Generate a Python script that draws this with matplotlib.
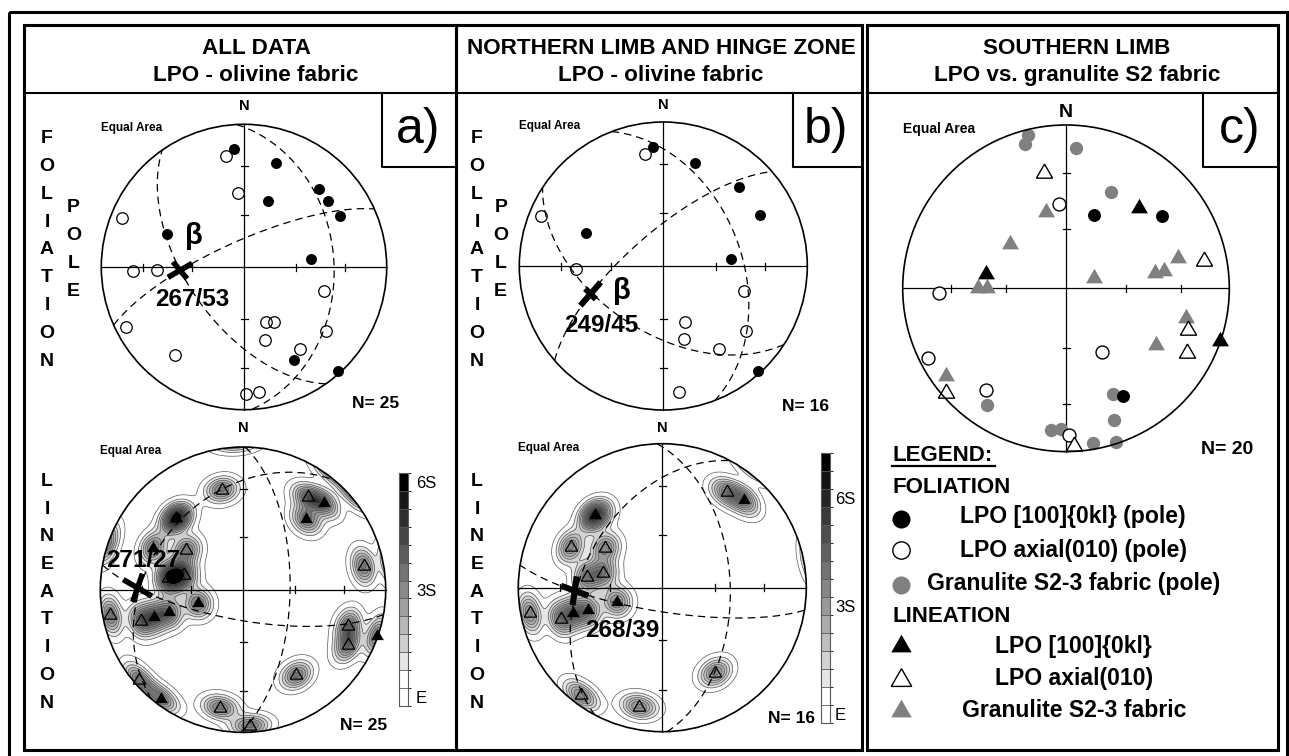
import numpy as np
import matplotlib
matplotlib.use("Agg")
import matplotlib.pyplot as plt
import matplotlib.cm as cm
from matplotlib.patches import Circle, Rectangle
from matplotlib.colors import ListedColormap, BoundaryNorm

plt.rcParams['font.family'] = ['Liberation Sans', 'DejaVu Sans']

# Lines are (trend, plunge), planes are (dip direction, dip), degrees.
# a) all data
a_fol_lpo = [(355, 18), (17, 25), (44, 25), (52, 26), (20, 49), (62, 25), (293, 41),
             (83, 51), (152, 27), (138, 2)]
a_fol_axial = [(351, 22), (355, 47), (292, 9), (268, 23), (268, 39), (107, 41), (243, 8),
               (158, 56), (151, 54), (164, 46), (128, 28), (218, 23), (146, 31), (179, 12),
               (173, 13)]
a_fol_planes = [(87, 37), (336, 75), (235, 57.5)]
a_fol_beta = (267, 53)

a_lin_lpo = [(317, 32), (317, 32), (43, 18), (42, 34), (295, 31), (281, 49), (253, 63),
             (253, 45), (253, 35), (217, 5), (109, 1)]
a_lin_axial = [(348, 29), (35, 22), (305, 50), (284, 55), (279, 46), (79, 15), (259, 6),
               (253, 26), (109, 23), (118, 18), (148, 30), (229, 4), (191, 17), (177, 5)]
a_lin_planes = [(91, 63), (190, 72.5), (310, 35)]
a_lin_beta = (271, 27)

# b) northern limb and hinge zone
b_fol_lpo = [(355, 18), (17, 26), (44, 25), (62, 25), (293, 41), (84, 51), (138, 2)]
b_fol_axial = [(351, 22), (292, 9), (268, 39), (107, 41), (159, 56), (164, 46), (128, 28),
               (146, 31), (173, 13)]
b_fol_planes = [(69, 45), (319, 71), (213, 52)]
b_fol_beta = (249, 45)

b_lin_lpo = [(317, 32), (317, 32), (43, 18), (253, 63), (253, 45), (254, 36)]
b_lin_axial = [(34, 21), (294, 31), (305, 50), (284, 55), (278, 46), (259, 7), (253, 27),
               (148, 31), (217, 7), (191, 17)]
b_lin_planes = [(88, 51), (189, 76.5), (298, 44)]
b_lin_beta = (268, 39)

# c) southern limb
c_fol_lpo = [(21, 50), (53, 27), (152, 26)]
c_fol_axial = [(355, 47), (268, 23), (243, 6), (218, 22), (151, 53), (179, 11)]
c_fol_gran = [(346, 4), (344, 9), (4, 15), (25, 35), (214, 15), (156, 30), (160, 15),
              (186, 14), (182, 15), (170, 4), (162, 1)]
c_lin_lpo = [(42, 34), (280, 49), (109, 0)]
c_lin_axial = [(349, 29), (79, 15), (109, 22), (118, 17), (229, 3), (177, 4)]
c_lin_gran = [(345, 50), (308, 54), (270, 45), (270, 50), (70, 75), (80, 44), (80, 39),
              (75, 30), (104, 25), (122, 35), (234, 10)]

headers = [("ALL DATA", "LPO - olivine fabric"),
           ("NORTHERN LIMB AND HINGE ZONE", "LPO - olivine fabric"),
           ("SOUTHERN LIMB", "LPO vs. granulite S2 fabric")]
panel_letters = ["a)", "b)", "c)"]
legend_items = [("FOLIATION", None),
                ("LPO [100]{0kl} (pole)", 'fol_lpo'),
                ("LPO axial(010) (pole)", 'fol_axial'),
                ("Granulite S2-3 fabric (pole)", 'fol_gran'),
                ("LINEATION", None),
                ("LPO [100]{0kl}", 'lin_lpo'),
                ("LPO axial(010)", 'lin_axial'),
                ("Granulite S2-3 fabric", 'lin_gran')]

W, H = 1289, 756
fig = plt.figure(figsize=(W / 100.0, H / 100.0), dpi=100)
bg = fig.add_axes([0, 0, 1, 1])
bg.set_xlim(0, W)
bg.set_ylim(H, 0)
bg.axis('off')


def project(trend, plunge):
    t = np.radians(np.asarray(trend, float))
    p = np.radians(np.asarray(plunge, float))
    r = np.sqrt(2.0) * np.sin((np.pi / 2 - p) / 2)
    return r * np.sin(t), r * np.cos(t)


def vectors(trend, plunge):
    t = np.radians(np.asarray(trend, float))
    p = np.radians(np.asarray(plunge, float))
    return np.stack([np.cos(p) * np.cos(t), np.cos(p) * np.sin(t), np.sin(p)])


def great_circle(dipdir, dip):
    dd, dp = np.radians(dipdir), np.radians(dip)
    strike = np.array([np.cos(dd - np.pi / 2), np.sin(dd - np.pi / 2), 0.0])
    down = np.array([np.cos(dp) * np.cos(dd), np.cos(dp) * np.sin(dd), np.sin(dp)])
    phi = np.linspace(0, np.pi, 181)
    v = np.outer(np.cos(phi), strike) + np.outer(np.sin(phi), down)
    plunge = np.degrees(np.arcsin(np.clip(v[:, 2], -1, 1)))
    trend = np.degrees(np.arctan2(v[:, 1], v[:, 0]))
    return project(trend, plunge)


def density(points, k=120.0, c=3.4, n=401):
    # smoothed (exponential kernel) counts on the sphere, axial data
    g = np.linspace(-1.0, 1.0, n)
    X, Y = np.meshgrid(g, g)
    r = np.clip(np.hypot(X, Y), 0, 1)
    plunge = 90 - np.degrees(2 * np.arcsin(r / np.sqrt(2)))
    trend = np.degrees(np.arctan2(X, Y))
    grid = vectors(trend, plunge)
    tr, pl = zip(*points)
    pts = vectors(tr, pl)
    dots = np.abs(np.einsum('im,ijk->mjk', pts, grid))
    return X, Y, c * np.exp(k * (dots - 1)).sum(axis=0)


STYLES = {
    'fol_lpo': dict(marker='o', ms=7.9, mfc='black', mec='black', mew=0),
    'fol_axial': dict(marker='o', ms=8.3, mfc='none', mec='black', mew=0.9),
    'lin_lpo': dict(marker=(3, 0, 0), ms=10.5, mfc='black', mec='black', mew=0),
    'lin_axial': dict(marker=(3, 0, 0), ms=10.5, mfc='none', mec='black', mew=0.9),
}
C_STYLES = {
    'fol_lpo': dict(marker='o', ms=9.3, mfc='black', mec='black', mew=0),
    'fol_axial': dict(marker='o', ms=9.3, mfc='white', mec='black', mew=1.0),
    'fol_gran': dict(marker='o', ms=9.6, mfc='0.5', mec='0.5', mew=0),
    'lin_lpo': dict(marker=(3, 0, 0), ms=14, mfc='black', mec='black', mew=0),
    'lin_axial': dict(marker=(3, 0, 0), ms=13.5, mfc='white', mec='black', mew=1.0),
    'lin_gran': dict(marker=(3, 0, 0), ms=14, mfc='0.5', mec='0.5', mew=0),
}


def stereonet(cx, cy, R, sets, planes=(), beta=None, bars=(), bar_lw=4.0,
              contour_pts=None, top=6):
    pad = 1.12
    ax = fig.add_axes([(cx - R * pad) / W, (H - cy - R * pad) / H,
                       2 * R * pad / W, 2 * R * pad / H])
    ax.set_xlim(-pad, pad)
    ax.set_ylim(-pad, pad)
    ax.axis('off')
    rim = Circle((0, 0), 1, fill=False, lw=1.2, ec='black', zorder=6)
    ax.add_patch(rim)
    result = None
    if contour_pts is not None:
        X, Y, D = density(contour_pts)
        bounds = np.arange(-0.25, top + 0.26, 0.5)
        nseg = len(bounds) - 1
        greys = [1.0, 1.0] + list(np.linspace(0.9, 0.0, nseg - 2))
        colors = [(g, g, g) for g in greys]
        cf = ax.contourf(X, Y, D, levels=list(bounds[:-1]) + [1e6], colors=colors, zorder=1)
        cl = ax.contour(X, Y, D, levels=bounds[1:-1], colors='0.35', linewidths=0.5, zorder=1.5)
        cf.set_clip_path(rim)
        cl.set_clip_path(rim)
        result = (bounds, colors)
    ax.plot([-1, 1], [0, 0], color='black', lw=0.9, zorder=3)
    ax.plot([0, 0], [-1, 1], color='black', lw=0.9, zorder=3)
    tick = 3.5 / R
    for pl in (30, 60):
        rr = project(0, pl)[1]
        for s in (-1, 1):
            ax.plot([s * rr, s * rr], [-tick, tick], color='black', lw=0.9, zorder=3)
            ax.plot([-tick, tick], [s * rr, s * rr], color='black', lw=0.9, zorder=3)
    for dd, dip in planes:
        x, y = great_circle(dd, dip)
        ax.plot(x, y, color='black', lw=0.9, ls=(0, (6, 4)), zorder=3)
    for pts, style in sets:
        tr, pl = zip(*pts)
        x, y = project(tr, pl)
        ax.plot(x, y, ls='none', clip_on=False, zorder=4, **style)
    if beta is not None:
        bx, by = project(*beta)
        for ang, length in bars:
            h = length / 2.0 / R
            dx, dy = h * np.cos(np.radians(ang)), h * np.sin(np.radians(ang))
            ax.plot([bx - dx, bx + dx], [by - dy, by + dy], color='black', lw=bar_lw,
                    solid_capstyle='butt', zorder=5)
    return ax, result


def beta_label(ax, beta, text, offset, size=17.5, va='baseline'):
    bx, by = project(*beta)
    ax.annotate(text, xy=(bx, by), xytext=offset, textcoords='offset pixels',
                ha='center', va=va, fontsize=size, weight='bold', zorder=7,
                annotation_clip=False)


def colorbar(x0, y0, x1, y1, bounds, colors, pad):
    cax = fig.add_axes([x0 / W, (H - y1) / H, (x1 - x0) / W, (y1 - y0) / H])
    cmap = ListedColormap(colors)
    norm = BoundaryNorm(bounds, cmap.N)
    cb = fig.colorbar(cm.ScalarMappable(norm=norm, cmap=cmap), cax=cax,
                      drawedges=True, ticks=[0, 3, 6])
    cb.ax.set_yticklabels(['E', '3S', '6S'], fontsize=12)
    cb.ax.tick_params(length=0, pad=pad)
    cb.outline.set_edgecolor('0.35')
    cb.outline.set_linewidth(0.8)
    cb.dividers.set_color('0.35')
    cb.dividers.set_linewidth(0.6)


# ---- frames
bg.add_patch(Rectangle((8.5, 12), 1278.5, 760, fill=False, lw=2.2, ec='black'))
panels = [(23.5, 455.5), (455.5, 862), (867, 1277.5)]
header_x = [256, 661, 1077]
box_left = [382, 793, 1203]
letter_x = [418, 826, 1240]
for (x0, x1), (h1, h2), hx, bl, lx, lt in zip(panels, headers, header_x, box_left,
                                               letter_x, panel_letters):
    bg.add_patch(Rectangle((x0, 25), x1 - x0, 724.5, fill=False, lw=2.2, ec='black'))
    bg.plot([x0, x1], [93, 93], color='black', lw=1.5)
    bg.plot([bl, bl, x1], [93, 167, 167], color='black', lw=1.5)
    bg.text(hx, 54, h1, ha='center', va='baseline', fontsize=16.2, weight='bold')
    bg.text(hx, 81, h2, ha='center', va='baseline', fontsize=16.2, weight='bold')
    bg.text(lx, 130, lt, ha='center', va='center', fontsize=36)

# side labels
for px, ppole in ((47, 73.5), (477, 500.7)):
    for i, ch in enumerate("FOLIATION"):
        bg.text(px, 143 + 27.85 * i, ch, ha='center', va='baseline', fontsize=14, weight='bold')
    for i, ch in enumerate("POLE"):
        bg.text(ppole, 212.5 + 28 * i, ch, ha='center', va='baseline', fontsize=14, weight='bold')
    for i, ch in enumerate("LINEATION"):
        bg.text(px, 486 + 27.7 * i, ch, ha='center', va='baseline', fontsize=14, weight='bold')

# ---- stereonets
nets = [(244, 267, 142.7), (243, 589.7, 142.7), (663.3, 266, 144), (662.3, 587.7, 144),
        (1066, 288.3, 163.3)]
n_base = [110, 432, 109, 432, 117]
ea_base = [131.5, 454, 129.3, 451, 133]
for (cx, cy, R), nb, eb in zip(nets, n_base, ea_base):
    big = R > 150
    bg.text(cx, nb, "N", ha='center', va='baseline', fontsize=14 if big else 10.5, weight='bold')
    bg.text(cx - R, eb, "Equal Area", ha='left', va='baseline', fontsize=10 if big else 8.5,
            weight='bold')

ax, _ = stereonet(*nets[0], [(a_fol_axial, STYLES['fol_axial']), (a_fol_lpo, STYLES['fol_lpo'])],
                  a_fol_planes, a_fol_beta, [(30, 28), (-50, 22)])
beta_label(ax, a_fol_beta, "β", (14, 34.8), size=21, va='center')
beta_label(ax, a_fol_beta, "267/53", (12.5, -35.7))

ax, (bnd_a, col_a) = stereonet(*nets[1], [(a_lin_axial, STYLES['lin_axial']),
                                          (a_lin_lpo, STYLES['lin_lpo'])],
                               a_lin_planes, a_lin_beta, [(-30, 33), (71, 30)],
                               contour_pts=a_lin_lpo + a_lin_axial, top=6)
beta_label(ax, a_lin_beta, "271/27", (5.7, 20.6))

ax, _ = stereonet(*nets[2], [(b_fol_axial, STYLES['fol_axial']), (b_fol_lpo, STYLES['fol_lpo'])],
                  b_fol_planes, b_fol_beta, [(49, 31), (-45, 15)], bar_lw=4.4)
beta_label(ax, b_fol_beta, "β", (31.2, 3.1), size=21, va='center')
beta_label(ax, b_fol_beta, "249/45", (11.2, -37.8))

ax, (bnd_b, col_b) = stereonet(*nets[3], [(b_lin_axial, STYLES['lin_axial']),
                                          (b_lin_lpo, STYLES['lin_lpo'])],
                               b_lin_planes, b_lin_beta, [(-20, 29), (82, 29)], bar_lw=4.4,
                               contour_pts=b_lin_lpo + b_lin_axial, top=7)
beta_label(ax, b_lin_beta, "268/39", (47.8, -45.9))

stereonet(*nets[4], [(c_fol_gran, C_STYLES['fol_gran']), (c_fol_axial, C_STYLES['fol_axial']),
                     (c_fol_lpo, C_STYLES['fol_lpo']), (c_lin_gran, C_STYLES['lin_gran']),
                     (c_lin_axial, C_STYLES['lin_axial']), (c_lin_lpo, C_STYLES['lin_lpo'])])

colorbar(399.3, 473.3, 408.3, 705.7, bnd_a, col_a, pad=5.5)
colorbar(821, 453, 830, 723, bnd_b, col_b, pad=3.5)

# counts
for x, y, t, fs in ((352, 407.7, "N= 25", 12.5), (340, 730, "N= 25", 12.5),
                    (781.7, 410.7, "N= 16", 12.5), (768, 722.7, "N= 16", 12.5),
                    (1200.7, 454, "N= 20", 14)):
    bg.text(x, y, t, ha='left', va='baseline', fontsize=fs, weight='bold')

# ---- legend (panel c)
bg.text(892, 460.7, "LEGEND:", ha='left', va='baseline', fontsize=16, weight='bold')
bg.plot([892, 995], [465.5, 465.5], color='black', lw=1.6)
leg_base = [493, 523, 556.7, 590, 621.7, 653, 685, 716.7]
leg_mark_y = [None, 518.5, 550, 585, None, 646, 679.5, 710.5]
leg_text_x = [892, 960, 960, 926.7, 892, 995, 995, 961.7]
leg_ms = {'fol_lpo': 13, 'fol_axial': 12.5, 'fol_gran': 13,
          'lin_lpo': 17, 'lin_axial': 17, 'lin_gran': 17}
for (label, key), yb, ym, tx in zip(legend_items, leg_base, leg_mark_y, leg_text_x):
    bg.text(tx, yb, label, ha='left', va='baseline', fontsize=16 if key is None else 16.6,
            weight='bold')
    if key is not None:
        st = dict(C_STYLES[key])
        st['ms'] = leg_ms[key]
        bg.plot([901.3], [ym], ls='none', **st)

fig.savefig("out.png", dpi=100)
